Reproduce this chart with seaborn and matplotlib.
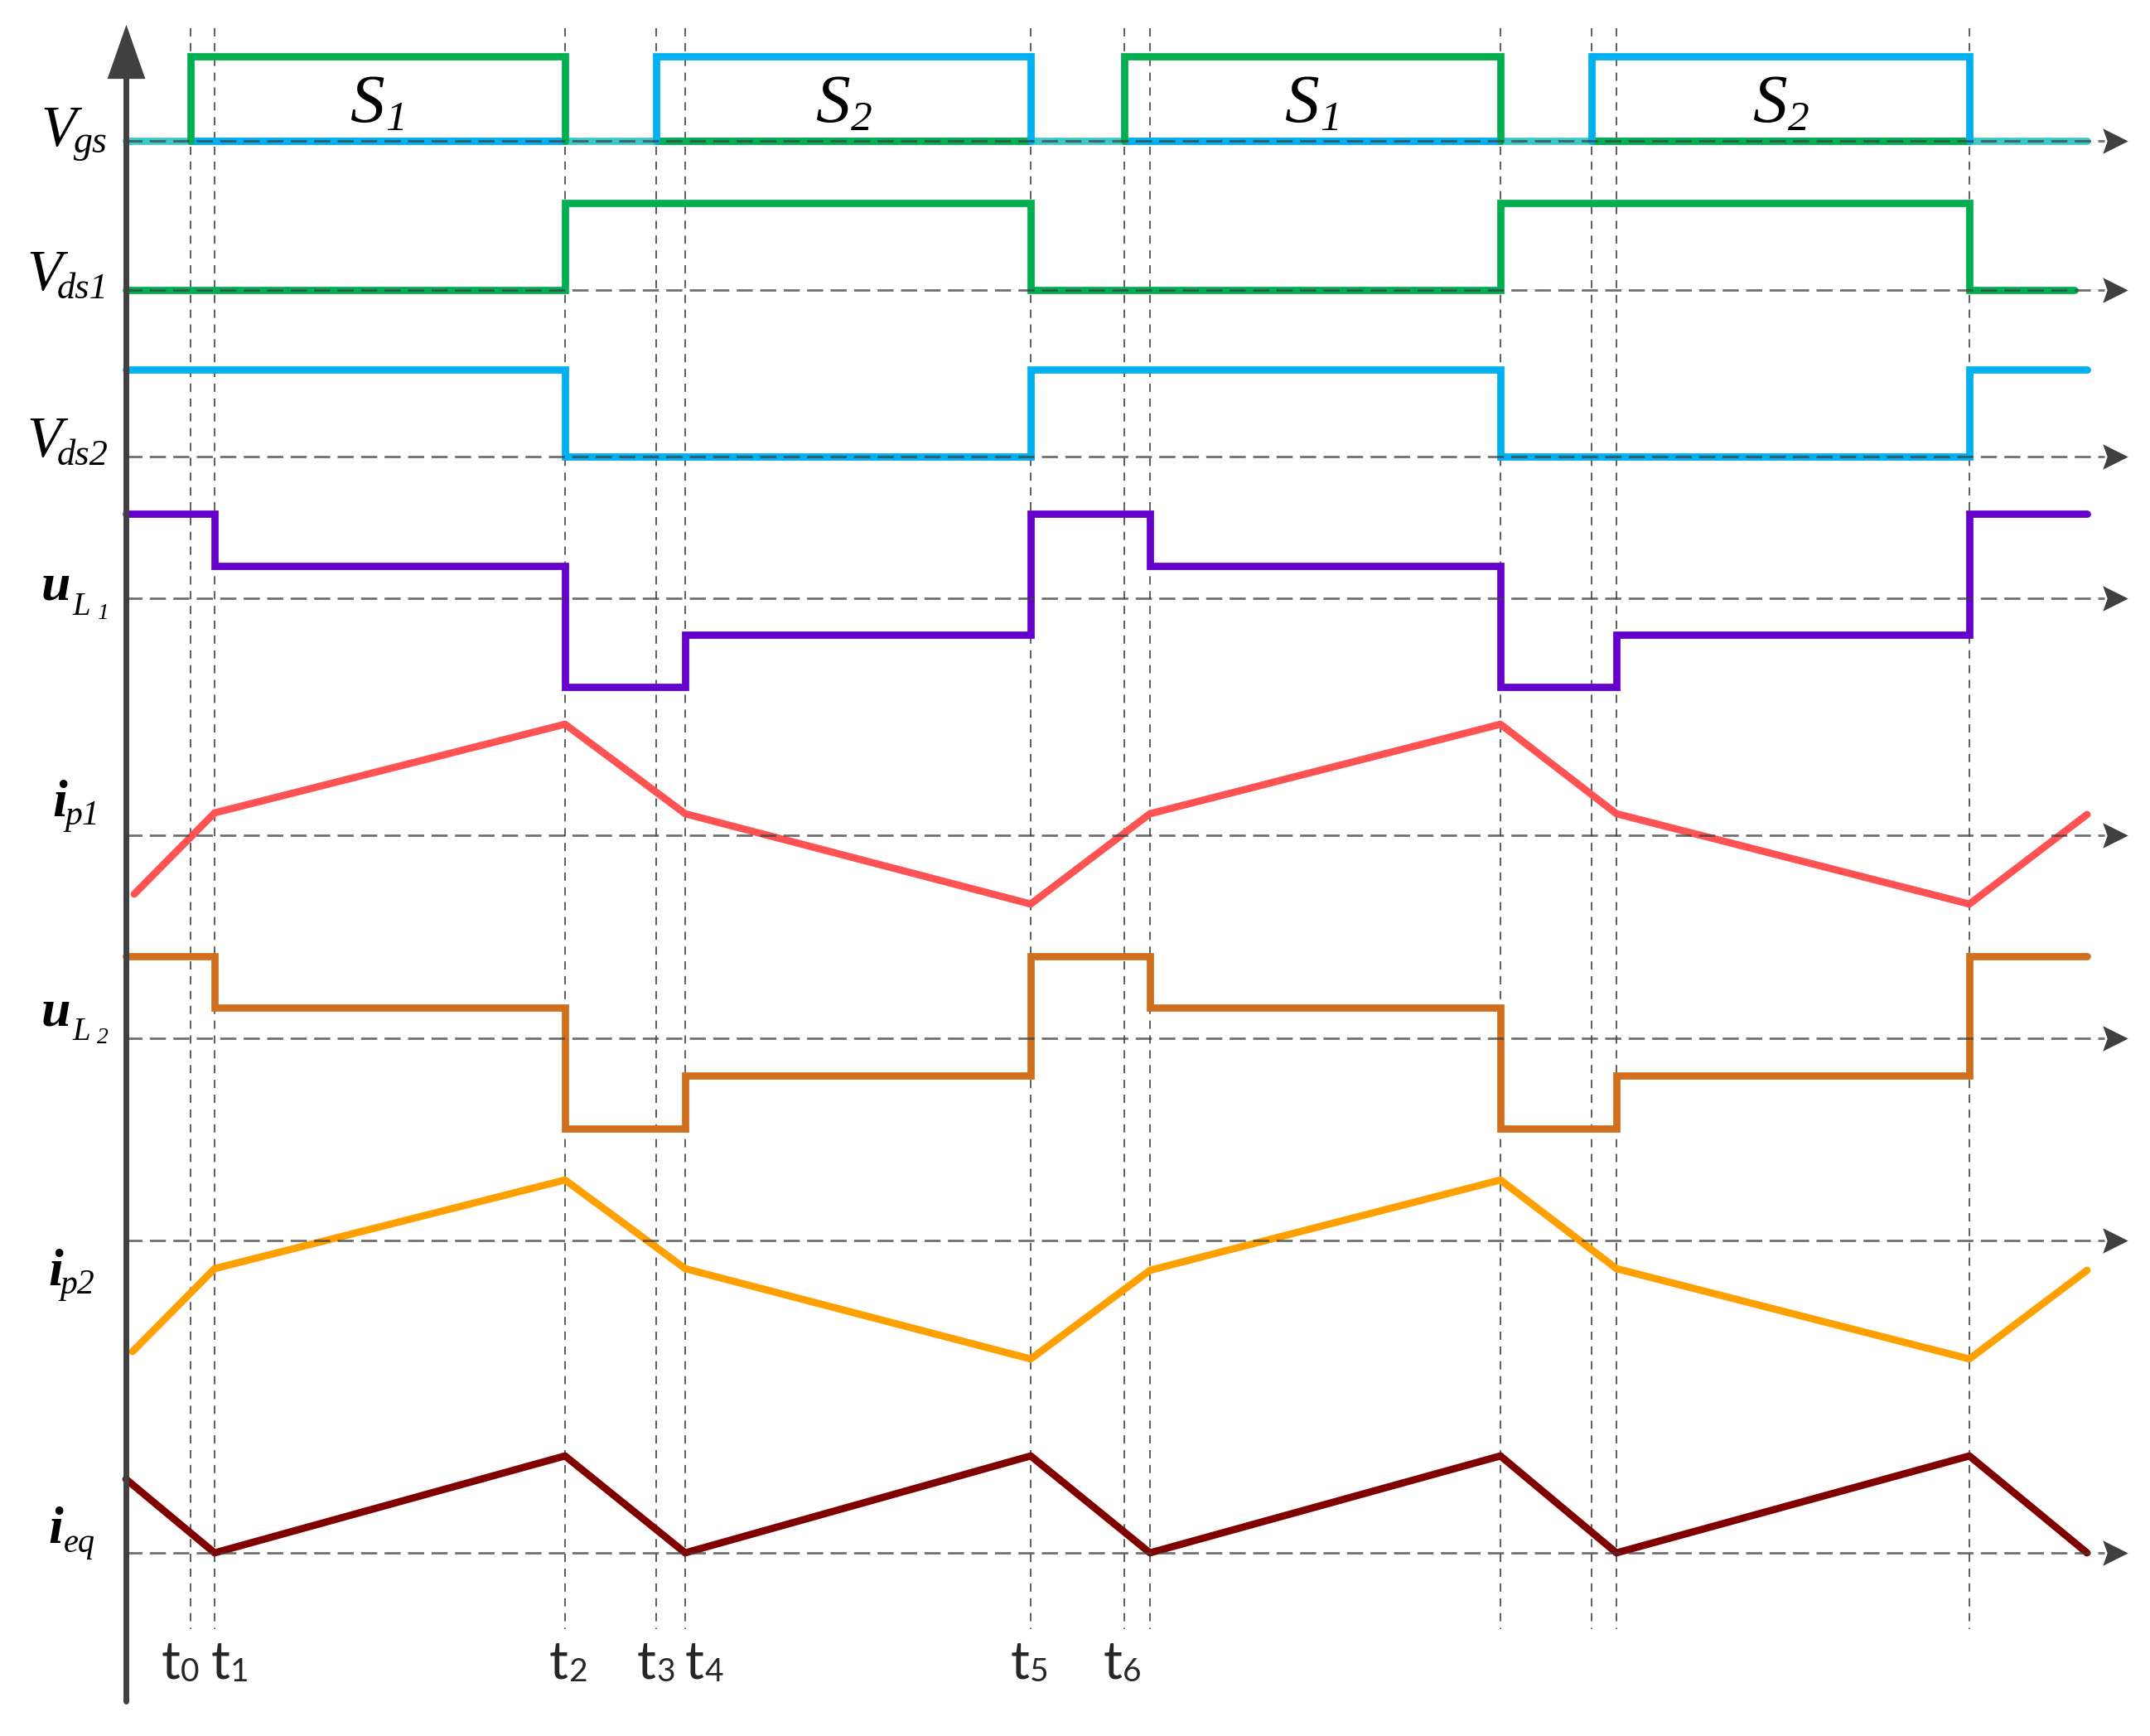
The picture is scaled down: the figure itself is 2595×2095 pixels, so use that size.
import matplotlib.pyplot as plt
from matplotlib.path import Path
import seaborn as sns

# ---------------------------------------------
# Data (picture px)
# ---------------------------------------------
# switching instants t0 .. t11 along the time axis
t = [230, 259, 682, 792, 827, 1244, 1357, 1388, 1811, 1921, 1951, 2377]
t_names = ['0', '1', '2', '3', '4', '5', '6']
t_label_shift = [-35, -4, -19, -23, 0, -24, -25]
x_start = 152
x_end = 2519

# gate pulses (index of on / off instant)
s1_pulses = [(0, 2), (6, 8)]
s2_pulses = [(3, 5), (9, 11)]
gate_high = 102

# drain-source voltages (step levels above the baseline)
vds1_x = [x_start, t[2], t[5], t[8], t[11], 2504]
vds1_lev = [0, 105, 0, 105, 0, 0]
vds2_x = [x_start, t[2], t[5], t[8], t[11], x_end]
vds2_lev = [105, 0, 105, 0, 105, 105]

# inductor voltages (steps)
ul_x = [x_start, t[1], t[2], t[4], t[5], t[7], t[8], t[10], t[11], x_end]
ul1_lev = [102, 39, -107, -44, 102, 39, -107, -44, 102, 102]
ul2_lev = [99, 37, -109, -45, 99, 37, -109, -45, 99, 99]

# currents (piecewise linear)
ip1_x = [162] + ul_x[1:]
ip1_lev = [-71, 27, 134, 26, -83, 26, 134, 26, -83, 25]
ip2_x = [160] + ul_x[1:]
ip2_lev = [-134, -34, 73, -34, -143, -36, 73, -34, -143, -36]
ieq_x = ul_x
ieq_lev = [89, 0, 117, 0, 117, 0, 117, 0, 117, 0]

# baselines of each trace (px from top)
base = {'Vgs': 170, 'Vds1': 350, 'Vds2': 551, 'uL1': 722,
        'ip1': 1008, 'uL2': 1253, 'ip2': 1497, 'ieq': 1874}

GREEN = '#00B050'
BLUE = '#00B0F0'
TEAL = '#3CC8C8'
PURPLE = '#6600CC'
RED = '#FF5252'
BROWN = '#D0701E'
ORANGE = '#FFA000'
MAROON = '#800000'
AXIS = '#404040'

sns.set_theme(style='white')
plt.rcParams['font.family'] = ['Liberation Serif', 'DejaVu Sans']

W, H = 2595, 2095
fig = plt.figure(figsize=(W / 100, H / 100), dpi=100)
ax = fig.add_axes([0, 0, 1, 1])
ax.set_xlim(0, W)
ax.set_ylim(H, 0)
ax.axis('off')


def trace(x, lev, b, color, step=False, join='round'):
    y = [b - v for v in lev]
    sns.lineplot(x=x, y=y, ax=ax, color=color, lw=6.3, sort=False,
                 estimator=None, drawstyle='steps-post' if step else 'default',
                 solid_capstyle='round', solid_joinstyle=join, zorder=3)


# vertical dashed time markers
for tx in t:
    ax.plot([tx, tx], [34, 1966], color='#505050', lw=1.3,
            dashes=(5.5, 4.4), zorder=1)

# gate signals
b = base['Vgs']
trace([x_start, x_end], [0, 0], b, TEAL)
for a, e in s1_pulses:
    trace([t[a], t[e]], [0, 0], b, BLUE)
for a, e in s2_pulses:
    trace([t[a], t[e]], [0, 0], b, GREEN)
for a, e in s1_pulses:
    trace([t[a], t[a], t[e], t[e]], [0, gate_high, gate_high, 0], b, GREEN, join='miter')
for a, e in s2_pulses:
    trace([t[a], t[a], t[e], t[e]], [0, gate_high, gate_high, 0], b, BLUE, join='miter')

trace(vds1_x, vds1_lev, base['Vds1'], GREEN, step=True, join='miter')
trace(vds2_x, vds2_lev, base['Vds2'], BLUE, step=True, join='miter')
trace(ul_x, ul1_lev, base['uL1'], PURPLE, step=True, join='miter')
trace(ip1_x, ip1_lev, base['ip1'], RED)
trace(ul_x, ul2_lev, base['uL2'], BROWN, step=True, join='miter')
trace(ip2_x, ip2_lev, base['ip2'], ORANGE)
trace(ieq_x, ieq_lev, base['ieq'], MAROON)

# dashed baselines with arrow heads
arrow_r = Path([(-0.5, -0.5), (0.5, 0), (-0.5, 0.5), (-0.32, 0), (-0.5, -0.5)],
               [Path.MOVETO, Path.LINETO, Path.LINETO, Path.LINETO, Path.CLOSEPOLY])
for name, yb in base.items():
    ax.plot([x_start, 2540], [yb, yb], color='#404040', alpha=0.75, lw=2,
            dashes=(7, 3.2), zorder=4)
    ax.plot([2553], [yb], marker=arrow_r, markersize=22, color=AXIS,
            markeredgewidth=0, zorder=5)

# vertical axis with arrow
ax.plot([x_start, x_start], [2053, 92], color=AXIS, lw=5,
        solid_capstyle='round', zorder=5)
arrow_up = Path([(-0.35, -0.5), (0, 0.5), (0.35, -0.5), (-0.35, -0.5)],
                [Path.MOVETO, Path.LINETO, Path.LINETO, Path.CLOSEPOLY])
ax.plot([x_start], [62], marker=arrow_up, markersize=47, color=AXIS,
        markeredgewidth=0, zorder=5)

# signal names on the left
it = dict(family='Liberation Serif', style='italic', color='black',
          ha='left', va='baseline')
labels = [
    ('V', 49, 176, 50, 'normal'), ('gs', 89, 184, 33, 'normal'),
    ('V', 32, 350, 50, 'normal'), ('ds1', 69, 360, 32, 'normal'),
    ('V', 32, 551, 50, 'normal'), ('ds2', 69, 561, 32, 'normal'),
    ('u', 50, 724, 46, 'bold'), ('L', 87, 742, 28, 'normal'), ('1', 117, 747, 20, 'normal'),
    ('i', 63, 985, 46, 'bold'), ('p1', 78, 995, 30, 'normal'),
    ('u', 50, 1237, 46, 'bold'), ('L', 87, 1255, 28, 'normal'), ('2', 117, 1259, 20, 'normal'),
    ('i', 58, 1551, 46, 'bold'), ('p2', 72, 1561, 30, 'normal'),
    ('i', 58, 1862, 46, 'bold'), ('eq', 77, 1873, 29, 'normal'),
]
for txt, lx, ly, fs, wt in labels:
    ax.text(lx, ly, txt, fontsize=fs, fontweight=wt, **it)

# switch names inside the gate pulses
for names, pulses in (('1', s1_pulses), ('2', s2_pulses)):
    for a, e in pulses:
        mid = (t[a] + t[e]) / 2
        ax.text(mid - 34, 147, 'S', fontsize=60, **it)
        ax.text(mid + 9, 157, names, fontsize=37, **it)

# time instant labels
for name, shift, tx in zip(t_names, t_label_shift, t):
    ax.text(tx + shift, 2025, 't', fontsize=46, family='Lato',
            ha='left', va='baseline')
    ax.text(tx + shift + 23, 2029, name, fontsize=28, family='Lato',
            ha='left', va='baseline')

fig.savefig('out.png', dpi=100)
